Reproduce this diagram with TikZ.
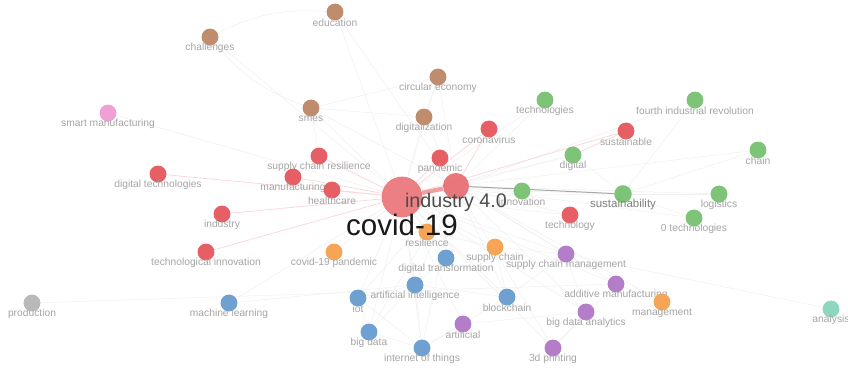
\documentclass[tikz,border=0pt]{standalone}
\usepackage{fontspec}
\setmainfont{Liberation Sans}
\usetikzlibrary{backgrounds}

\definecolor{vred}{RGB}{230,95,100}
\definecolor{vgreen}{RGB}{125,196,120}
\definecolor{vbrown}{RGB}{192,140,110}
\definecolor{vblue}{RGB}{110,160,210}
\definecolor{vorange}{RGB}{245,165,85}
\definecolor{vpurple}{RGB}{180,125,200}
\definecolor{vpink}{RGB}{240,160,215}
\definecolor{vgray}{RGB}{185,185,185}
\definecolor{vteal}{RGB}{140,215,190}
\definecolor{lblgray}{RGB}{165,165,165}

\tikzset{
  kw/.style={circle, inner sep=0pt, minimum size=12pt},
  lbl/.style={inner sep=0pt, text=lblgray, font=\fontsize{7.3}{8}\selectfont},
  edge/.style={draw=black!6, line width=0.35pt},
  redge/.style={draw=vred!25, line width=0.5pt},
}

\begin{document}
\begin{tikzpicture}[x=0.025cm, y=-0.025cm]
\useasboundingbox (0,0) rectangle (848,369);

% keywords
\foreach \n/\x/\y/\c/\t in {
  educ/335/12/vbrown/education, chall/210/37/vbrown/challenges,
  circ/438/77/vbrown/circular economy, smes/311/108/vbrown/smes,
  digz/424/117/vbrown/digitalization, techs/545/100/vgreen/technologies,
  fir/695/100/vgreen/fourth industrial revolution,
  smartm/108/113/vpink/smart manufacturing,
  corona/489/129/vred/coronavirus, sustle/626/131/vred/sustainable,
  scres/319/156/vred/supply chain resilience, pand/440/158/vred/pandemic,
  dig/573/155/vgreen/digital, chain/758/150/vgreen/chain,
  digtech/158/174/vred/digital technologies, manuf/293/177/vred/manufacturing,
  health/332/190/vred/healthcare, innov/522/191/vgreen/innovation,
  logist/719/194/vgreen/logistics, zerotech/694/218/vgreen/0 technologies,
  techy/570/215/vred/technology, indus/222/214/vred/industry,
  resil/427/232/vorange/resilience, techinn/206/252/vred/technological innovation,
  covpan/334/252/vorange/covid-19 pandemic, supch/495/247/vorange/supply chain,
  digtrans/446/258/vblue/digital transformation,
  scm/566/254/vpurple/supply chain management,
  prod/32/303/vgray/production, ml/229/303/vblue/machine learning,
  ai/415/285/vblue/artificial intelligence, iot/358/298/vblue/iot,
  bc/507/297/vblue/blockchain, am/616/284/vpurple/additive manufacturing,
  mgmt/662/302/vorange/management, bda/586/312/vpurple/big data analytics,
  anal/831/309/vteal/analysis, bd/369/332/vblue/big data,
  artif/463/324/vpurple/artificial, iotth/422/348/vblue/internet of things,
  print3d/553/348/vpurple/3d printing}
{
  \node[kw, fill=\c] (\n) at (\x,\y) {};
  \node[lbl] (\n-l) at (\x,\y+11) {\t};
}

\node[kw, fill=vgreen, minimum size=12.5pt] (sust) at (623,194) {};
\node[lbl, text=black!50, font=\fontsize{8.2}{9}\selectfont] (sust-l) at (623,205) {sustainability};

\node[kw, fill=vred, fill opacity=0.85, minimum size=18.5pt] (ind) at (456,186) {};
\node[kw, fill=vred, fill opacity=0.8, minimum size=29pt] (cov) at (402,197) {};
\node[inner sep=0pt, text=black!70, font=\fontsize{14}{16}\selectfont] (ind-l) at (456,202) {industry 4.0};
\node[inner sep=0pt, text=black!90, font=\fontsize{21}{24}\selectfont] (cov-l) at (402,225) {covid-19};

% links
\begin{pgfonlayer}{background}
\fill[white] (0,0) rectangle (848,369);
\foreach \a/\b in {educ/cov, chall/cov, smes/cov, circ/cov, digz/cov, techs/cov,
  dig/cov, innov/cov, sust/cov, techy/cov, resil/cov, covpan/cov, supch/cov,
  digtrans/cov, scm/cov, ai/cov, iot/cov, bc/cov, bd/cov, iotth/cov, artif/cov,
  print3d/cov, bda/cov, am/cov, ml/cov, smartm/cov,
  ind/innov, ind/dig, ind/techs, ind/fir, ind/chain, ind/logist, ind/zerotech,
  ind/techy, ind/scm, ind/bc, ind/am, ind/bda, ind/print3d, ind/ai, ind/iotth,
  ind/bd, ind/iot, ind/mgmt, ind/smes, ind/circ, ind/digz, ind/educ,
  smes/circ, smes/digz, smes/scres, circ/digz, prod/am, ml/ai, anal/scm,
  sust/chain, sust/logist, sust/fir, sust/zerotech, innov/sust, dig/sust,
  ai/iot, ai/bd, ai/iotth, ai/bc, iot/bd, iot/iotth, bd/iotth, iotth/bc,
  digtrans/ai, bc/scm, bda/print3d, am/print3d, am/mgmt, scm/bda, artif/iotth,
  artif/bda, supch/scm, supch/bc, resil/supch}
  \draw[edge] (\a) -- (\b);
\draw[edge] (chall) to[bend left=15] (educ);
\draw[edge] (chall) to[bend right=15] (smes);
\foreach \a/\b in {pand/cov, corona/cov, scres/cov, manuf/cov, health/cov,
  digtech/cov, indus/cov, techinn/cov, sustle/cov, corona/ind, pand/ind,
  sustle/dig}
  \draw[redge] (\a) -- (\b);
\draw[vred!60, line width=3pt] (cov) -- (ind);
\draw[black!35, line width=0.7pt] (ind) -- (sust);
\end{pgfonlayer}
\end{tikzpicture}
\end{document}
